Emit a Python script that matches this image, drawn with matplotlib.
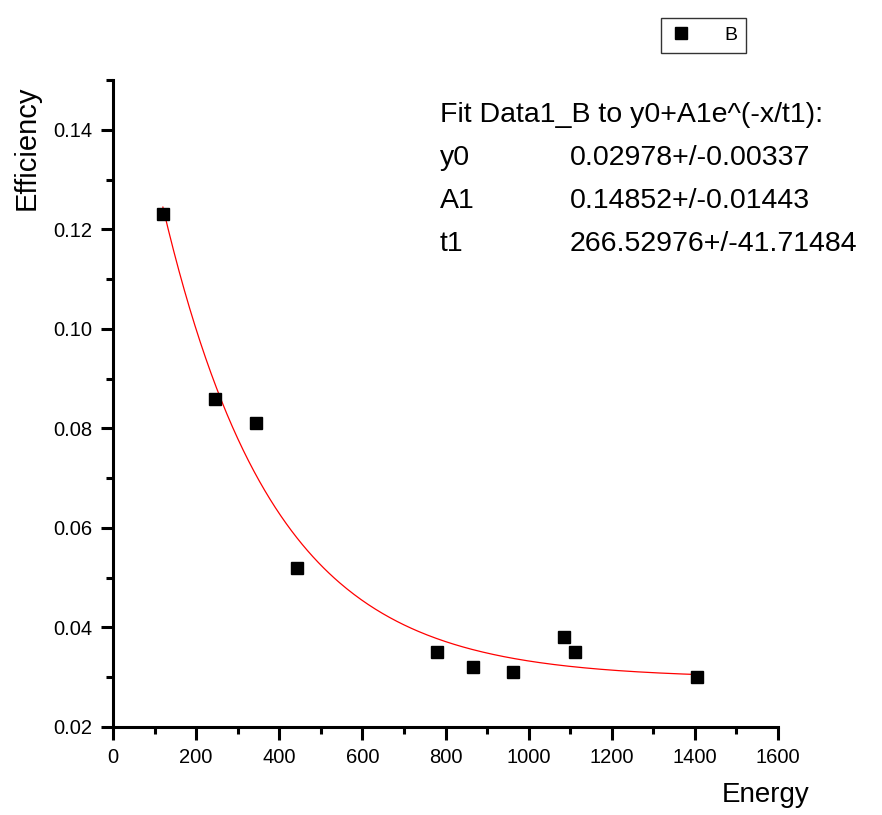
import numpy as np
import matplotlib
matplotlib.use("Agg")
import matplotlib.pyplot as plt
from matplotlib.ticker import MultipleLocator, FormatStrFormatter

plt.rcParams["font.family"] = ["Liberation Sans", "DejaVu Sans"]

# measured points
energy = [120, 245, 344, 443, 780, 866, 962, 1085, 1112, 1405]
efficiency = [0.123, 0.086, 0.081, 0.052, 0.035, 0.032, 0.031, 0.038, 0.035, 0.030]

# exponential decay fit reported on the chart
fit_names = ["y0", "A1", "t1"]
fit_values = [0.02978, 0.14852, 266.52976]
fit_value_text = ["0.02978", "0.14852", "266.52976"]
fit_error_text = ["0.00337", "0.01443", "41.71484"]

fig = plt.figure(figsize=(8.82, 8.15), dpi=100)
ax = fig.add_axes([113 / 882, 1 - 727 / 815, 665 / 882, 647 / 815])

y0, a1, t1 = fit_values
xs = np.linspace(min(energy), max(energy), 300)
ax.plot(xs, y0 + a1 * np.exp(-xs / t1), color="red", linewidth=0.9, zorder=2)
ax.plot(energy, efficiency, linestyle="none", marker="s", markersize=8.5,
        color="black", label="B", zorder=3)

ax.set_xlim(0, 1600)
ax.set_ylim(0.02, 0.15)
ax.xaxis.set_major_locator(MultipleLocator(200))
ax.xaxis.set_minor_locator(MultipleLocator(100))
ax.yaxis.set_major_locator(MultipleLocator(0.02))
ax.yaxis.set_minor_locator(MultipleLocator(0.01))
ax.yaxis.set_major_formatter(FormatStrFormatter("%.2f"))

for side in ("top", "right"):
    ax.spines[side].set_visible(False)
for side in ("left", "bottom"):
    ax.spines[side].set_linewidth(2.2)
ax.tick_params(which="major", direction="out", length=9, width=2.2,
               labelsize=14.5, pad=6, colors="black")
ax.tick_params(which="minor", direction="out", length=5, width=2.2)

fig.text(27 / 882, 1 - 148 / 815, "Efficiency", rotation=90, fontsize=21,
         ha="center", va="center")
fig.text(766 / 882, 1 - 795 / 815, "Energy", fontsize=20, ha="center", va="center")

# fit report
tx0, tx1 = 440 / 882, 570 / 882
fs = 20.5
fig.text(tx0, 1 - 115 / 815, "Fit Data1_B to y0+A1e^(-x/t1):", fontsize=fs, va="center")
for i, name in enumerate(fit_names):
    yy = 1 - (158 + 43 * i) / 815
    fig.text(tx0, yy, name, fontsize=fs, va="center")
    fig.text(tx1, yy, f"{fit_value_text[i]}+/-{fit_error_text[i]}", fontsize=fs, va="center")

leg = fig.legend(loc="center", bbox_to_anchor=(703.5 / 882, 1 - 35.5 / 815),
                 fancybox=False, edgecolor="black", fontsize=14, handlelength=1.2,
                 handletextpad=1.6, borderpad=0.45, markerscale=1.0)
leg.get_frame().set_linewidth(1.0)

fig.savefig("out.png", dpi=100, facecolor="white")
